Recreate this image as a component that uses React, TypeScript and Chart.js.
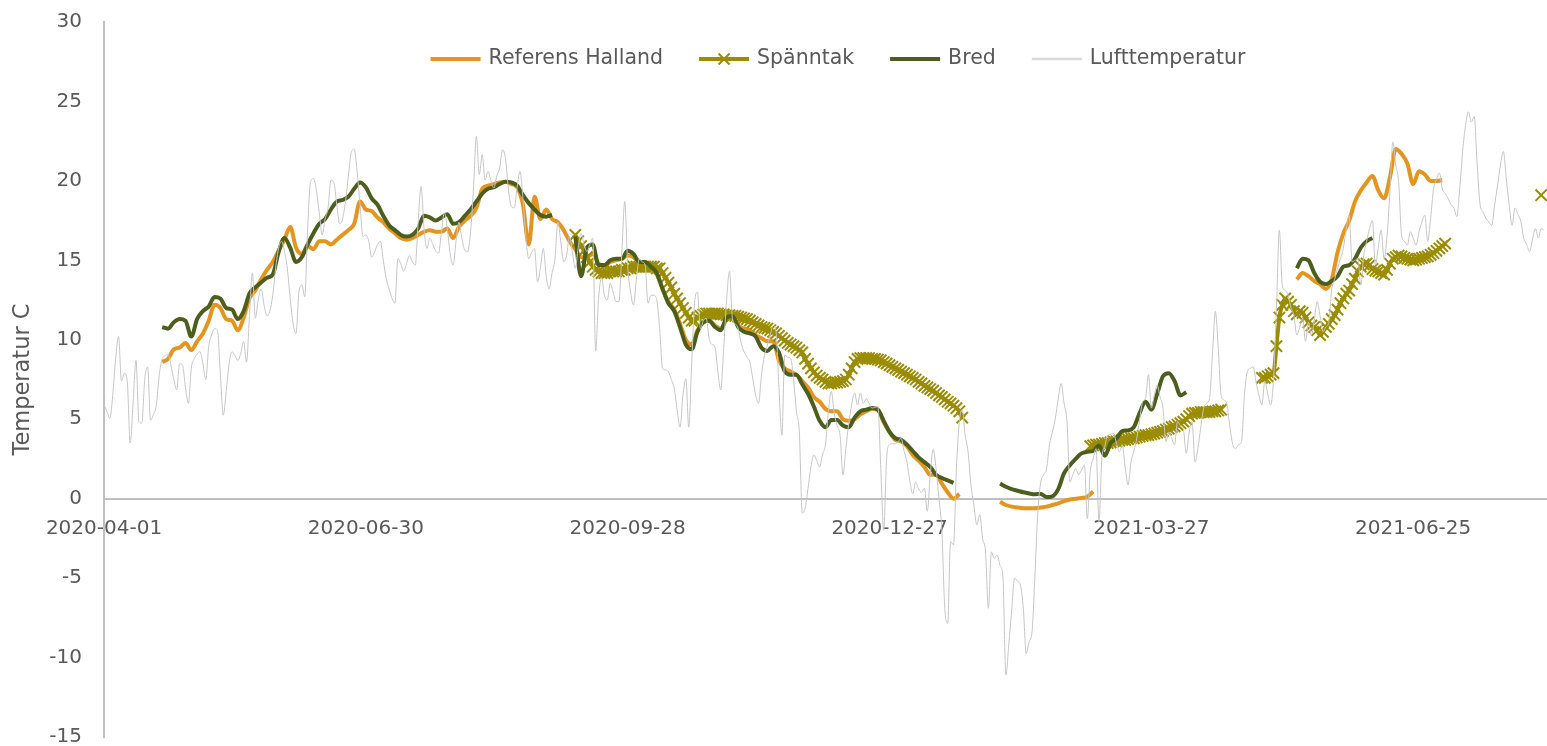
import React, { useEffect, useRef } from 'react';
import { Chart, registerables } from 'chart.js';

Chart.register(...registerables);

// ---- Axis definitions (x = days since 2020-04-01) ----
const xMin = 0;
const xMax = 496;
const tickDays = [0, 90, 180, 270, 360, 450];
const tickLabels = ['2020-04-01', '2020-06-30', '2020-09-28', '2020-12-27', '2021-03-27', '2021-06-25'];
const yMin = -15;
const yMax = 30;
const yStep = 5;

// ---- Lufttemperatur: daily values from day 0 ----
const airTemp = [
  5.9, 5.5, 5.05, 6.5, 8.8, 10.2, 7.4, 7.9, 7.4, 3.5,
  6.0, 8.7, 4.85, 4.75, 7.5, 8.3, 4.95, 5.3, 5.9, 7.8,
  8.8, 9.0, 9.1, 8.4, 7.5, 6.85, 8.5, 8.4, 7.0, 6.0,
  8.2, 8.8, 9.1, 9.25, 8.5, 7.5, 9.6, 10.3, 10.7, 10.6,
  7.8, 5.25, 6.75, 8.5, 9.25, 9.0, 8.7, 9.15, 9.9, 8.6,
  11.55, 14.2, 11.35, 12.5, 13.2, 12.2, 11.5, 11.8, 12.8, 14.5,
  15.75, 16.2, 15.6, 14.5, 12.6, 11.0, 10.4, 13.0, 13.45, 12.7,
  17.0, 19.95, 20.15, 19.4, 18.0, 16.6, 17.6, 18.3, 20.05, 19.9,
  18.5, 17.3, 17.6, 18.7, 20.3, 21.8, 22.0, 20.6, 18.5, 16.5,
  16.6, 16.2, 15.2, 15.5, 16.0, 16.2, 15.0, 13.85, 13.2, 12.6,
  12.3, 15.1, 14.8, 14.3, 14.8, 15.3, 14.9, 14.7, 17.5, 19.65,
  17.0, 15.75, 16.4, 16.0, 15.6, 15.45, 16.8, 18.0, 17.0, 15.4,
  14.7, 16.2, 17.4, 16.4, 15.65, 15.55, 16.8, 19.5, 22.8, 20.4,
  21.65, 20.05, 20.6, 20.0, 19.55, 20.3, 20.8, 21.95, 21.4, 19.5,
  18.4, 18.3, 19.6, 20.6, 18.9, 16.5, 15.1, 15.5, 15.75, 13.65,
  14.5, 15.75, 14.0, 13.2, 14.2, 15.1, 17.4, 16.2, 14.9, 15.3,
  16.5, 15.5, 14.5, 15.8, 16.7, 16.0, 15.55, 16.0, 16.4, 9.3,
  12.6, 13.9, 12.8, 12.5, 13.55, 13.0, 12.4, 12.4, 15.5, 18.7,
  14.7, 13.0, 12.2, 13.8, 15.1, 14.9, 14.7, 12.3, 12.8, 12.8,
  12.5, 10.7, 8.2, 8.1, 8.0, 7.5, 6.95, 5.6, 4.5, 6.5,
  7.55, 4.5, 8.5, 12.3, 13.0, 10.7, 11.2, 11.35, 10.1, 9.7,
  9.55, 8.0, 6.85, 9.45, 12.5, 14.3, 11.35, 11.0, 10.7, 9.8,
  9.25, 8.9, 8.6, 7.55, 6.5, 6.0, 7.8, 9.0, 9.65, 10.3,
  10.9, 10.5, 7.0, 4.0, 9.05, 8.9, 8.85, 7.55, 5.5, 4.2,
  -0.9, -0.6, 0.65, 2.0, 2.75, 2.4, 2.0, 2.8, 3.4, 5.5,
  6.75, 5.35, 4.6, 4.0, 1.5, 3.15, 4.75, 5.9, 6.65, 5.9,
  6.65, 6.0, 6.3, 6.0, 5.7, 5.75, 5.8, 1.9, -2.0, 2.5,
  3.4, 3.45, 3.45, 3.6, 3.8, 3.0, 2.3, 1.1, 0.3, 1.05,
  0.6, 0.4, 0.65, -0.8, 1.5, 3.1, 1.9, 0.02, -2.0, -6.9,
  -7.85, -2.7, -2.9, 1.9, 4.85, 5.6, 4.0, 2.95, 0.86, -0.4,
  -1.65, -1.0, -2.5, -3.35, -6.9, -3.35, -3.75, -3.55, -4.2, -5.0,
  -11.1, -9.2, -7.0, -5.0, -5.2, -5.45, -6.9, -9.75, -9.0, -8.35,
  -4.8, -0.8, 1.05, 1.5, 1.9, 3.4, 4.2, 5.05, 6.3, 7.25,
  6.0, 4.85, 1.05, 1.5, 1.9, 1.5, 1.8, 2.1, -1.25, 1.7,
  2.5, 3.15, -1.45, 2.55, 3.3, 4.0, 4.05, 4.1, 3.5, 2.95,
  3.4, 2.0, 0.86, 2.3, 3.0, 3.8, 5.0, 6.1, 6.3, 7.8,
  5.7, 6.5, 7.15, 6.4, 5.7, 3.6, 4.2, 3.8, 3.4, 4.85,
  4.6, 4.4, 2.85, 4.2, 4.85, 2.3, 3.15, 4.5, 5.7, 6.0,
  6.3, 9.05, 11.8, 9.45, 6.5, 6.2, 5.9, 4.5, 3.4, 3.15,
  3.4, 3.6, 6.5, 8.0, 8.2, 8.3, 7.35, 6.5, 5.9, 7.4,
  6.6, 5.9, 7.5, 12.0, 16.9, 13.45, 13.1, 12.8, 12.0, 11.55,
  10.3, 10.8, 11.35, 9.9, 11.1, 10.3, 11.2, 12.4, 11.5, 10.5,
  10.8, 11.1, 13.2, 13.8, 14.5, 15.1, 15.75, 17.0, 17.85, 14.9,
  15.0, 15.1, 13.45, 15.3, 16.2, 17.0, 17.5, 14.7, 15.8, 16.9,
  15.1, 16.5, 19.3, 22.45, 21.0, 19.95, 16.6, 16.2, 15.95, 16.8,
  16.4, 15.95, 16.8, 17.4, 17.85, 16.2, 17.65, 19.5, 20.1, 20.5,
  19.5, 19.2, 18.9, 18.5, 18.3, 17.75, 19.5, 21.85, 23.5, 24.35,
  23.7, 24.05, 21.0, 18.5, 18.05, 17.65, 17.4, 17.2, 18.5, 19.7,
  21.0, 21.85, 20.15, 18.5, 17.2, 18.3, 17.9, 17.45, 16.4, 16.0,
  15.55, 16.3, 17.0, 16.4, 17.0, 16.9,
];

// ---- Referens Halland: every second day, three measuring periods ----
const refStartA = 20;
const refA = [
  8.6, 8.8, 9.4, 9.5, 9.8, 9.35, 9.9, 10.4, 11.2, 12.2,
  12.0, 11.3, 11.2, 10.6, 11.4, 12.6, 13.1, 13.8, 14.4, 14.9,
  15.6, 16.3, 17.1, 15.8, 15.4, 15.9, 15.7, 16.2, 16.2, 16.0,
  16.3, 16.6, 16.9, 17.3, 18.7, 18.2, 18.1, 17.7, 17.4, 17.0,
  16.7, 16.4, 16.3, 16.4, 16.6, 16.8, 16.9, 16.8, 16.8, 17.0,
  16.4, 17.1, 17.5, 17.8, 18.3, 19.5, 19.7, 19.8, 19.9, 19.95,
  19.8, 19.6, 18.5, 16.0, 19.0, 17.6, 18.2, 17.6, 17.4, 16.9,
  16.2, 15.7, 15.2, 15.2, 15.4, 14.8, 14.6, 14.9, 15.0, 15.1,
  15.3, 15.2, 14.9, 14.8, 14.5, 14.1, 13.2, 12.4, 11.9, 11.0,
  10.0, 9.7, 10.6, 11.1, 11.2, 10.9, 10.7, 11.3, 11.4, 10.9,
  10.7, 10.6, 10.3, 10.1, 9.9, 9.9, 8.7, 8.2, 8.0, 7.8,
  7.4, 7.0, 6.4, 6.1, 5.65, 5.5, 5.5, 5.0, 4.9, 5.0,
  5.3, 5.5, 5.65, 5.6, 4.8, 4.2, 3.7, 3.6, 3.3, 2.75,
  2.4, 2.0, 1.5, 1.5, 0.95, 0.4, 0.0, 0.3,
];
const refStartB = 308;
const refB = [-0.2, -0.4, -0.5, -0.55, -0.6, -0.6, -0.6, -0.55, -0.5, -0.4, -0.3, -0.15, -0.05, 0.0, 0.05, 0.12, 0.45];
const refStartC = 410;
const refC = [
  13.8, 14.2, 14.0, 13.7, 13.5, 13.2, 13.8, 15.5, 16.7, 17.5,
  18.7, 19.4, 19.9, 20.3, 19.4, 18.9, 20.2, 22.0, 21.7, 21.1,
  19.8, 20.6, 20.4, 20.0, 20.0, 20.05,
];

// ---- Spänntak: daily values, four periods ----
const spStartA = 162;
const spA = [
  16.6, 16.2, 15.9, 15.6, 15.2, 14.9, 14.6, 14.4, 14.3, 14.2,
  14.2, 14.2, 14.3, 14.3, 14.3, 14.3, 14.4, 14.4, 14.5, 14.5,
  14.6, 14.6, 14.6, 14.6, 14.6, 14.6, 14.6, 14.6, 14.5, 14.5,
  14.2, 13.9, 13.6, 13.3, 12.9, 12.6, 12.3, 12.0, 11.7, 11.4,
  11.2, 11.2, 11.4, 11.5, 11.6, 11.65, 11.65, 11.65, 11.65, 11.65,
  11.6, 11.6, 11.55, 11.55, 11.5, 11.5, 11.45, 11.4, 11.35, 11.3,
  11.2, 11.1, 11.0, 10.9, 10.8, 10.75, 10.7, 10.6, 10.5, 10.4,
  10.25, 10.1, 9.95, 9.8, 9.7, 9.6, 9.5, 9.35, 9.2, 8.8,
  8.5, 8.2, 7.95, 7.75, 7.6, 7.5, 7.35, 7.25, 7.25, 7.3,
  7.3, 7.35, 7.4, 7.5, 7.8, 8.2, 8.6, 8.8, 8.85, 8.85,
  8.85, 8.85, 8.8, 8.8, 8.75, 8.7, 8.6, 8.5, 8.4, 8.3,
  8.2, 8.1, 8.0, 7.9, 7.8, 7.7, 7.6, 7.5, 7.35, 7.25,
  7.1, 7.0, 6.9, 6.8, 6.65, 6.5, 6.4, 6.25, 6.1, 6.0,
  5.85, 5.7, 5.5, 5.1,
];
const spStartB = 339;
const spB = [
  3.3, 3.35, 3.4, 3.4, 3.45, 3.5, 3.5, 3.55, 3.6, 3.6,
  3.65, 3.7, 3.7, 3.75, 3.8, 3.8, 3.85, 3.9, 3.95, 4.0,
  4.0, 4.05, 4.1, 4.15, 4.2, 4.25, 4.35, 4.4, 4.5, 4.55,
  4.65, 4.75, 4.85, 5.0, 5.2, 5.35, 5.4, 5.4, 5.45, 5.45,
  5.45, 5.45, 5.5, 5.5, 5.55, 5.6,
];
const spStartC = 398;
const spC = [
  7.6, 7.6, 7.7, 7.8, 7.9, 9.6, 11.4, 12.2, 12.6, 12.4,
  12.2, 11.8, 11.6, 11.8, 11.7, 11.4, 11.1, 10.9, 10.8, 10.6,
  10.3, 10.5, 10.8, 11.0, 11.3, 11.55, 11.9, 12.3, 12.6, 12.9,
  13.1, 13.5, 13.85, 14.3, 14.6, 14.75, 14.8, 14.7, 14.45, 14.35,
  14.3, 14.2, 14.1, 14.4, 14.8, 15.1, 15.2, 15.3, 15.25, 15.15,
  15.1, 15.05, 15.0, 15.05, 15.1, 15.15, 15.2, 15.25, 15.35, 15.45,
  15.6, 15.75, 15.9, 16.05,
];
const spStartD = 494;
const spD = [19.1];

// ---- Bred: every second day, four periods ----
const bredStartA = 20;
const bredA = [
  10.8, 10.7, 11.1, 11.3, 11.2, 10.2, 11.3, 11.8, 12.1, 12.7,
  12.6, 12.0, 11.9, 11.3, 11.8, 12.9, 13.3, 13.6, 13.9, 14.1,
  15.5, 16.4, 15.8, 14.9, 15.2, 16.0, 16.7, 17.3, 17.6, 18.2,
  18.7, 18.8, 19.0, 19.5, 19.9, 19.6, 18.9, 18.5, 17.8, 17.2,
  16.9, 16.6, 16.5, 16.6, 17.0, 17.8, 17.7, 17.5, 17.7, 17.9,
  17.3, 17.4, 17.8, 18.2, 18.7, 19.2, 19.5, 19.6, 19.8, 19.95,
  19.9, 19.7, 19.1, 18.6, 18.2, 17.85, 17.75, 17.85,
];
const bredStartB = 162;
const bredB = [
  16.5, 14.0, 15.8, 16.0, 14.7, 14.7, 15.0, 15.1, 15.1, 15.6,
  15.4, 14.9, 14.9, 14.6, 14.2, 13.2, 12.3, 11.8, 10.8, 9.7,
  9.4, 10.5, 11.1, 11.2, 10.8, 10.6, 11.4, 11.5, 10.8, 10.5,
  10.4, 10.2, 9.5, 9.3, 9.6, 9.2, 8.0, 7.8, 7.8, 7.2,
  6.6, 5.8, 4.9, 4.5, 4.95, 4.95, 4.6, 4.5, 5.1, 5.5,
  5.6, 5.7, 5.6, 4.9, 4.2, 3.8, 3.7, 3.4, 3.0, 2.6,
  2.3, 2.0, 1.5, 1.3, 1.15, 1.0,
];
const bredStartC = 308;
const bredC = [
  0.95, 0.75, 0.6, 0.5, 0.4, 0.33, 0.28, 0.3, 0.1, 0.15,
  0.6, 1.6, 2.1, 2.5, 2.85, 2.95, 3.0, 3.35, 2.7, 3.5,
  3.8, 4.25, 4.3, 4.5, 5.4, 6.1, 5.6, 6.6, 7.7, 7.9,
  7.4, 6.5, 6.7,
];
const bredStartD = 410;
const bredD = [14.5, 15.1, 15.0, 14.2, 13.65, 13.5, 13.7, 14.0, 14.6, 14.7, 15.1, 15.8, 16.2, 16.4];

// ---- Styling ----
const ORANGE = '#E3951F';
const OLIVE = '#9B8C00';
const DARK_GREEN = '#4B5E1E';
const AIR_GRAY = '#C6C6C6';
const TEXT = '#595959';
const AXIS_LINE = '#BFBFBF';
const FONT = '"DejaVu Sans", Verdana, sans-serif';

type Segment = { start: number; step: number; values: number[] };
type Pt = { x: number; y: number | null };

function toPoints(segments: Segment[]): Pt[] {
  const pts: Pt[] = [];
  segments.forEach((s, k) => {
    if (k > 0) pts.push({ x: s.start - 0.5, y: null });
    s.values.forEach((v, i) => pts.push({ x: s.start + i * s.step, y: v }));
  });
  return pts;
}

// Legend drawn inside the plot, along the top
const topLegend = {
  id: 'topLegend',
  afterDraw(chart: any) {
    const { ctx } = chart;
    const lineLen = 50;
    const textGap = 8;
    const itemGap = 36;
    const centerX = 838;
    const y = 59;
    ctx.save();
    ctx.font = `20.5px ${FONT}`;
    ctx.textBaseline = 'middle';
    ctx.textAlign = 'left';
    const items = chart.data.datasets.map((ds: any) => ({
      label: ds.label as string,
      color: ds.legendColor as string,
      lw: ds.legendLineWidth as number,
      marker: ds.pointStyle === 'crossRot',
      w: lineLen + textGap + ctx.measureText(ds.label).width,
    }));
    const total = items.reduce((a: number, it: any) => a + it.w, 0) + itemGap * (items.length - 1);
    let x = centerX - total / 2;
    for (const it of items) {
      ctx.strokeStyle = it.color;
      ctx.lineWidth = it.lw;
      ctx.lineCap = 'butt';
      ctx.beginPath();
      ctx.moveTo(x, y);
      ctx.lineTo(x + lineLen, y);
      ctx.stroke();
      if (it.marker) {
        const r = 5.5;
        const mx = x + lineLen / 2;
        ctx.lineWidth = 2;
        ctx.beginPath();
        ctx.moveTo(mx - r, y - r);
        ctx.lineTo(mx + r, y + r);
        ctx.moveTo(mx - r, y + r);
        ctx.lineTo(mx + r, y - r);
        ctx.stroke();
      }
      ctx.fillStyle = TEXT;
      ctx.fillText(it.label, x + lineLen + textGap, y);
      x += it.w + itemGap;
    }
    ctx.restore();
  },
};

export default function App() {
  const canvasRef = useRef<HTMLCanvasElement | null>(null);

  useEffect(() => {
    document.body.style.margin = '0';
    const canvas = canvasRef.current;
    if (!canvas) return;

    const refData = toPoints([
      { start: refStartA, step: 2, values: refA },
      { start: refStartB, step: 2, values: refB },
      { start: refStartC, step: 2, values: refC },
    ]);
    const spData = toPoints([
      { start: spStartA, step: 1, values: spA },
      { start: spStartB, step: 1, values: spB },
      { start: spStartC, step: 1, values: spC },
      { start: spStartD, step: 1, values: spD },
    ]);
    const bredData = toPoints([
      { start: bredStartA, step: 2, values: bredA },
      { start: bredStartB, step: 2, values: bredB },
      { start: bredStartC, step: 2, values: bredC },
      { start: bredStartD, step: 2, values: bredD },
    ]);
    const airData = toPoints([{ start: 0, step: 1, values: airTemp }]);

    const chart = new Chart(canvas, {
      type: 'line',
      data: {
        datasets: [
          {
            label: 'Referens Halland',
            data: refData as any,
            borderColor: ORANGE,
            backgroundColor: ORANGE,
            borderWidth: 4,
            pointRadius: 0,
            cubicInterpolationMode: 'monotone',
            spanGaps: false,
            order: 4,
            legendColor: ORANGE,
            legendLineWidth: 4,
          } as any,
          {
            label: 'Spänntak',
            data: spData as any,
            borderColor: OLIVE,
            backgroundColor: OLIVE,
            borderWidth: 4,
            pointStyle: 'crossRot',
            pointRadius: 8,
            pointBorderWidth: 2,
            pointBorderColor: OLIVE,
            pointBackgroundColor: OLIVE,
            cubicInterpolationMode: 'monotone',
            spanGaps: false,
            order: 3,
            legendColor: OLIVE,
            legendLineWidth: 4,
          } as any,
          {
            label: 'Bred',
            data: bredData as any,
            borderColor: DARK_GREEN,
            backgroundColor: DARK_GREEN,
            borderWidth: 4,
            pointRadius: 0,
            cubicInterpolationMode: 'monotone',
            spanGaps: false,
            order: 2,
            legendColor: DARK_GREEN,
            legendLineWidth: 4,
          } as any,
          {
            label: 'Lufttemperatur',
            data: airData as any,
            borderColor: AIR_GRAY,
            backgroundColor: AIR_GRAY,
            borderWidth: 1,
            pointRadius: 0,
            cubicInterpolationMode: 'monotone',
            spanGaps: false,
            order: 1,
            legendColor: '#D9D9D9',
            legendLineWidth: 2.5,
          } as any,
        ],
      },
      options: {
        responsive: false,
        animation: false,
        events: [],
        devicePixelRatio: 1,
        layout: { autoPadding: false, padding: { top: 22, bottom: 9, left: 0, right: 0 } },
        plugins: {
          legend: { display: false },
          tooltip: { enabled: false },
          title: { display: false },
        },
        scales: {
          x: {
            type: 'linear',
            position: { y: 0 } as any,
            min: xMin,
            max: xMax,
            afterFit: (scale: any) => {
              scale.height = 0;
            },
            grid: { display: false, drawTicks: false },
            border: { display: true, color: AXIS_LINE, width: 2 },
            afterBuildTicks: (scale: any) => {
              scale.ticks = tickDays.map((v) => ({ value: v }));
            },
            ticks: {
              autoSkip: false,
              maxRotation: 0,
              padding: 18,
              color: TEXT,
              font: { family: FONT, size: 20 },
              callback: (value: any) => {
                const i = tickDays.indexOf(Number(value));
                return i >= 0 ? tickLabels[i] : '';
              },
            },
          },
          y: {
            type: 'linear',
            position: 'left',
            min: yMin,
            max: yMax,
            afterFit: (scale: any) => {
              scale.width = 104;
              scale.paddingTop = 0;
              scale.paddingBottom = 0;
            },
            grid: { display: false, drawTicks: false },
            border: { display: true, color: AXIS_LINE, width: 2 },
            ticks: {
              stepSize: yStep,
              padding: 22,
              color: TEXT,
              font: { family: FONT, size: 20 },
            },
            title: {
              display: true,
              text: 'Temperatur C',
              color: TEXT,
              font: { family: FONT, size: 22.5 },
              padding: { top: 10, bottom: 0 },
            },
          },
        },
      },
      plugins: [topLegend],
    });

    return () => chart.destroy();
  }, []);

  return (
    <div style={{ position: 'absolute', left: 0, top: 0, width: 1547, height: 746 }}>
      <canvas ref={canvasRef} width={1547} height={746} style={{ display: 'block' }} />
    </div>
  );
}
